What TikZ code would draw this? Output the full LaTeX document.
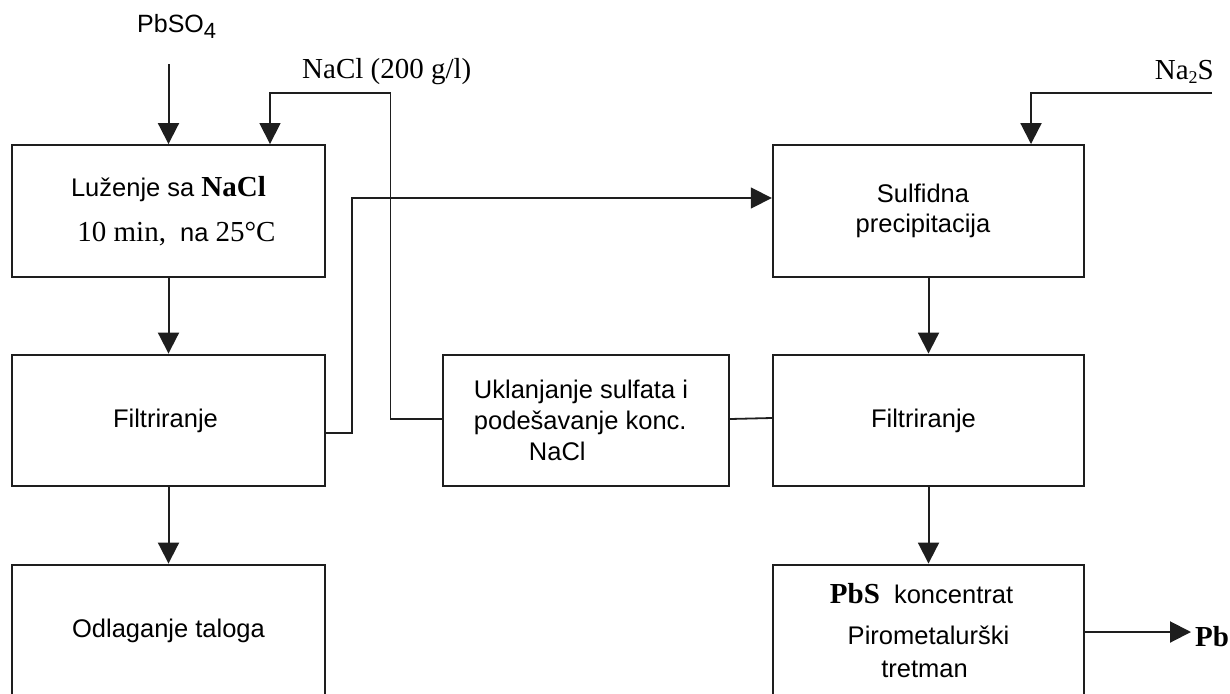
\documentclass[tikz,border=0pt]{standalone}
\usepackage{fontspec}
\setmainfont{Liberation Sans}
\newfontfamily\tms{Liberation Serif}
\usetikzlibrary{arrows.meta}
\definecolor{ink}{RGB}{30,30,30}
\newcommand\tmx[1]{{\tms\fontsize{29}{30}\selectfont #1}}
\begin{document}
\begin{tikzpicture}[x=1pt,y=-1pt,
  box/.style={draw=ink, line width=2.4pt, minimum height=131.5pt, inner sep=0pt, align=center, font=\fontsize{25.5}{30}\selectfont, text=black},
  lbox/.style={box, minimum width=313pt},
  rbox/.style={box, minimum width=311pt},
  arr/.style={draw=ink, line width=2pt, -{Triangle[length=21pt,width=21pt]}},
  ln/.style={draw=ink, line width=1.8pt},
  lab/.style={inner sep=0pt, text=black}]
\useasboundingbox (0,0) rectangle (1230,693);

% boxes
\node[lbox] (b1) at (168.5,211) {Luženje sa \tmx{\bfseries NaCl}\\[15pt]\hspace*{16pt}\tmx{10 min,}\ \ na \tmx{25°C}};
\node[lbox] (b2) at (168.5,420.5) {\hspace*{-6pt}Filtriranje};
\node[lbox] (b3) at (168.5,630.5) {Odlaganje taloga};
\node[rbox] (b4) at (928.5,211) {\hspace*{-11pt}Sulfidna\\\hspace*{-11pt}precipitacija};
\node[rbox] (b5) at (928.5,420.5) {\hspace*{-10pt}Filtriranje};
\node[rbox] (b6) at (928.5,630.5) {\hspace*{-14pt}\tmx{\bfseries PbS}\ \ koncentrat\\[11pt]Pirometalurški\\[3pt]\hspace*{-8pt}tretman};
\node[box, minimum width=286pt, align=left, font=\fontsize{25.5}{31}\selectfont] (m) at (586,420.5) {Uklanjanje sulfata i\hspace*{10pt}\\podešavanje konc.\\\hspace*{55pt}NaCl};

% labels
\node[lab, anchor=base west] (pbl) at (137,33) {\fontsize{25}{25}\selectfont PbSO\raisebox{-6pt}{\fontsize{22}{22}\selectfont 4}};
\node[lab, anchor=base west] (nacl) at (302,78) {\tmx{NaCl (200 g/l)}};
\node[lab, anchor=base east] (na2s) at (1214,79) {\tmx{Na\raisebox{-4pt}{\fontsize{18}{18}\selectfont 2}S}};
\node[lab, anchor=base west, inner sep=4pt] (pb) at (1191,646) {\tmx{\bfseries Pb}};

% coordinates
\coordinate (pbs) at (168.5,64);
\coordinate (n1) at (390.5,93);
\coordinate (n2) at (270,93);
\coordinate (s1) at (352,433);
\coordinate (s2) at (352,198);
\coordinate (q1) at (1212,93);
\coordinate (q2) at (1031,93);

% connectors
\draw[arr] (pbs) -- (b1.north);
\draw[arr, line width=1.7pt] (m.west |- 0,419) -| (n1) -- (n2) -- (b1.north -| n2);
\draw[arr, line width=1.7pt] (b2.east |- s1) -- (s1) -- (s2) -- (b4.west |- s2);
\draw[ln] (m.east |- 0,419) -- (b5.west |- 0,418);
\draw[arr] (q1) -- (q2) -- (b4.north -| q2);
\draw[arr] (b1.south) -- (b2.north);
\draw[arr] (b2.south) -- (b3.north);
\draw[arr] (b4.south) -- (b5.north);
\draw[arr] (b5.south) -- (b6.north);
\draw[arr] (b6.east |- 0,632) -- (pb.west |- 0,632);
\end{tikzpicture}
\end{document}
